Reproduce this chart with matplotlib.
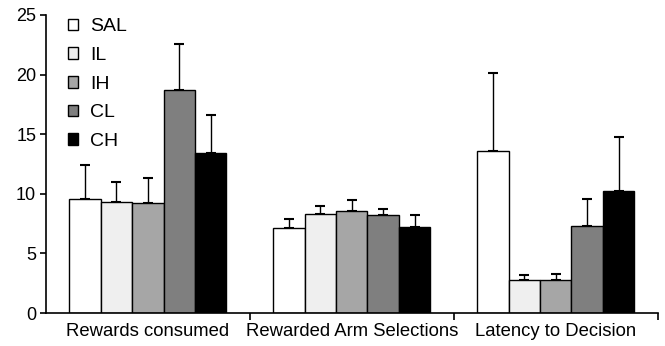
import matplotlib
matplotlib.use("Agg")
import matplotlib.pyplot as plt
import numpy as np
from matplotlib.patches import Patch

plt.rcParams['font.family'] = ['Liberation Sans', 'DejaVu Sans']

# data
categories = ['Rewards consumed', 'Rewarded Arm Selections', 'Latency to Decision']
groups = ['SAL', 'IL', 'IH', 'CL', 'CH']
colors = ['white', '#efefef', '#a6a6a6', '#7f7f7f', 'black']
means = {
    'SAL': [9.6, 7.1, 13.6],
    'IL': [9.35, 8.35, 2.8],
    'IH': [9.2, 8.6, 2.8],
    'CL': [18.7, 8.2, 7.3],
    'CH': [13.4, 7.2, 10.2],
}
err_tops = {
    'SAL': [12.4, 7.85, 20.1],
    'IL': [11.0, 8.95, 3.2],
    'IH': [11.3, 9.45, 3.3],
    'CL': [22.6, 8.7, 9.6],
    'CH': [16.6, 8.25, 14.8],
}

fig = plt.figure(figsize=(6.65, 3.46), dpi=100)
ax = fig.add_axes([0.069, 0.095, 0.92, 0.862])

x = np.arange(len(categories))
w = 0.154
for i, g in enumerate(groups):
    pos = x + (i - 2) * w
    m = np.array(means[g])
    e = np.array(err_tops[g]) - m
    ax.bar(pos, m, width=w, color=colors[i], edgecolor='black', linewidth=1.0, zorder=2)
    ax.errorbar(pos, m, yerr=[np.zeros_like(e), e], fmt='none', ecolor='black',
                elinewidth=1.0, capsize=3.5, capthick=1.5, zorder=1)

ax.set_xlim(-0.5, 2.5)
ax.set_ylim(0, 25)
ax.set_yticks([0, 5, 10, 15, 20, 25])
ax.set_xticks([0.5, 1.5, 2.5])
ax.set_xticklabels([])
ax.set_xticks(x, minor=True)
ax.set_xticklabels(categories, minor=True, fontsize=13.3)
ax.tick_params(axis='x', which='minor', length=0, pad=7)
ax.tick_params(axis='x', which='major', length=5, width=1.2, direction='out')
ax.tick_params(axis='y', length=4, width=1.2, labelsize=13, pad=3)
for s in ['top', 'right']:
    ax.spines[s].set_visible(False)
for s in ['left', 'bottom']:
    ax.spines[s].set_linewidth(1.2)

handles = [Patch(facecolor=c, edgecolor='black', linewidth=1.0) for c in colors]
ax.legend(handles, groups, loc='upper left', bbox_to_anchor=(0.007, 1.047), frameon=False,
          handlelength=0.55, handleheight=0.55, handletextpad=0.6, labelspacing=0.6,
          fontsize=14)

fig.savefig('out.png', dpi=100)
